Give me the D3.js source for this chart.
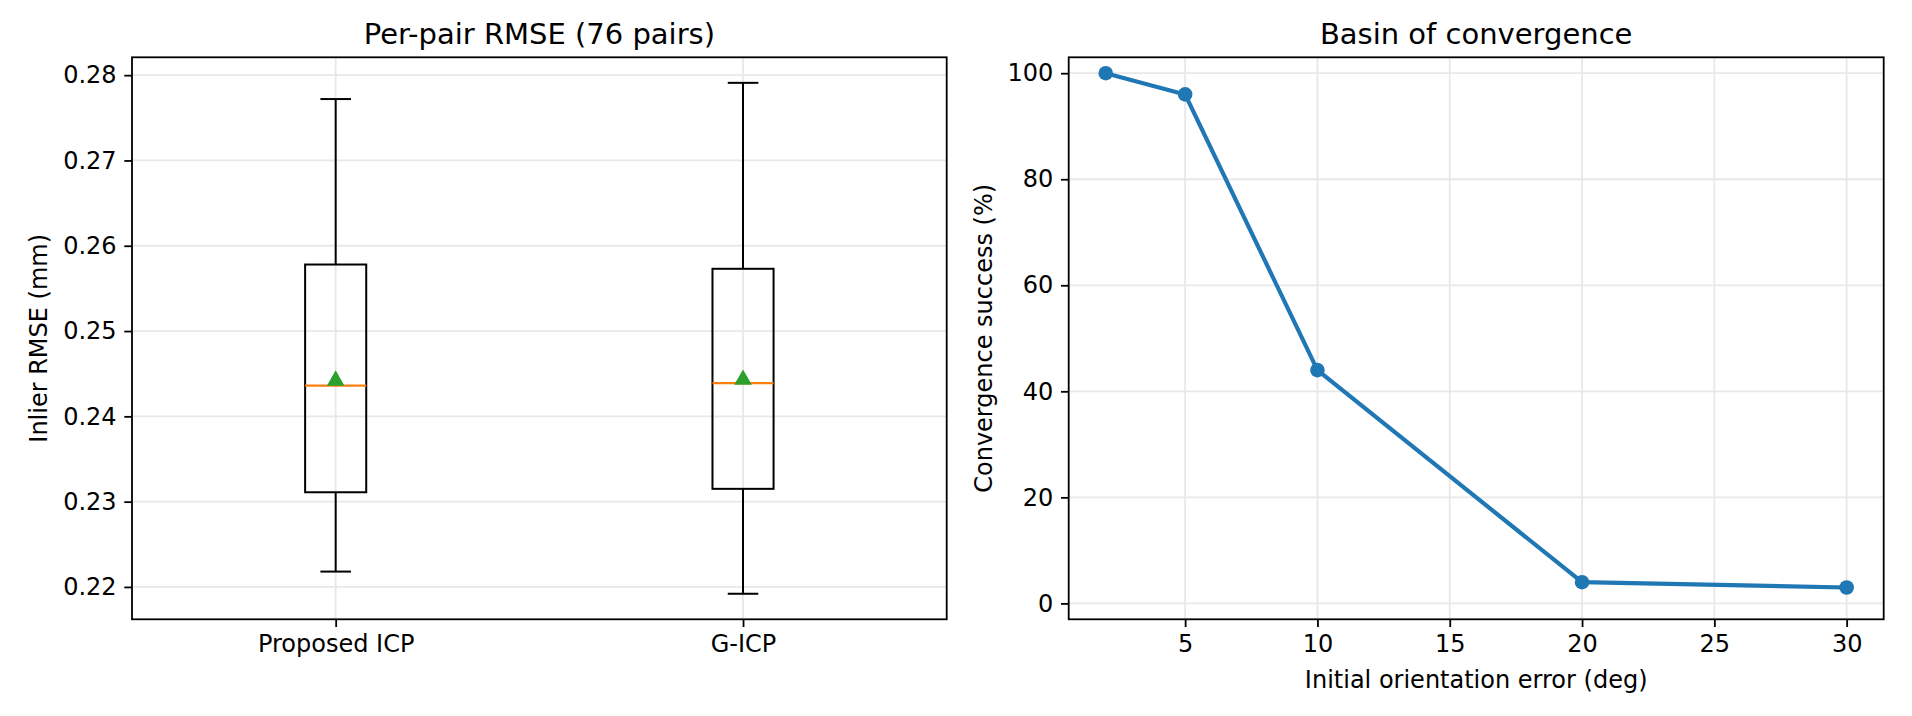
<!DOCTYPE html>
<html lang="en">
<head>
  <meta charset="UTF-8" />
  <script src="https://d3js.org/d3.v7.min.js"></script>
  <title>ICP RMSE and basin of convergence</title>
  <style>
    body { margin: 0; background: #fff; }
    text { font-family: "DejaVu Sans", sans-serif; fill: #000; }
  </style>
</head>
<body>
  <svg width="1912" height="716"></svg>

  <script>
    // box plot stats, one entry per method
    const methods = ["Proposed ICP", "G-ICP"];
    const whiskerLow = [0.2218, 0.2192];
    const q1 = [0.2311, 0.2315];
    const medians = [0.2436, 0.2439];
    const means = [0.2445, 0.2446];
    const q3 = [0.2578, 0.2573];
    const whiskerHigh = [0.2772, 0.2791];
    const rmseTicks = [0.22, 0.23, 0.24, 0.25, 0.26, 0.27, 0.28];

    // basin of convergence
    const angleErr = [2, 5, 10, 20, 30];
    const success = [100, 96, 44, 4, 3];
    const angleTicks = [5, 10, 15, 20, 25, 30];
    const successTicks = [0, 20, 40, 60, 80, 100];

    const fontSize = 24;
    const titleSize = 29;
    const tickLen = 7.7;
    const gridColor = "#e8e8e8";
    const plotTop = 57.3, plotBottom = 619.3;

    const svg = d3.select("svg");

    function frame(g, x0, x1) {
      g.append("rect")
        .attr("x", x0).attr("y", plotTop)
        .attr("width", x1 - x0).attr("height", plotBottom - plotTop)
        .attr("fill", "none")
        .attr("stroke", "#000")
        .attr("stroke-width", 1.8);
    }

    function styleAxis(g) {
      g.select(".domain").remove();
      g.selectAll(".tick line").attr("stroke", "#000").attr("stroke-width", 1.8);
      g.selectAll(".tick text").style("font-size", fontSize + "px").attr("fill", "#000");
    }

    function grid(g, x, y, xt, yt) {
      g.append("g").selectAll("line").data(xt).enter().append("line")
        .attr("x1", d => x(d)).attr("x2", d => x(d))
        .attr("y1", plotTop).attr("y2", plotBottom)
        .attr("stroke", gridColor).attr("stroke-width", 1.8);
      g.append("g").selectAll("line").data(yt).enter().append("line")
        .attr("x1", x.range()[0]).attr("x2", x.range()[1])
        .attr("y1", d => y(d)).attr("y2", d => y(d))
        .attr("stroke", gridColor).attr("stroke-width", 1.8);
    }

    // ---------- left: box plot ----------
    const L = { x0: 132, x1: 946.7 };
    const lo = d3.min(whiskerLow), hi = d3.max(whiskerHigh);
    const pad = (hi - lo) * 0.05;

    const xBox = d3.scaleLinear().domain([0.5, 2.5]).range([L.x0, L.x1]);
    const yBox = d3.scaleLinear().domain([lo - pad, hi + pad]).range([plotBottom, plotTop]);

    const left = svg.append("g");
    grid(left, xBox, yBox, [1, 2], rmseTicks);

    const boxW = xBox(1.15) - xBox(1);
    const capW = boxW / 2;

    const boxes = left.selectAll(".box")
      .data(methods)
      .enter()
      .append("g")
      .attr("class", "box");

    // whiskers
    boxes.append("line")
      .attr("x1", (d, i) => xBox(i + 1)).attr("x2", (d, i) => xBox(i + 1))
      .attr("y1", (d, i) => yBox(whiskerHigh[i])).attr("y2", (d, i) => yBox(q3[i]))
      .attr("stroke", "#000").attr("stroke-width", 2);
    boxes.append("line")
      .attr("x1", (d, i) => xBox(i + 1)).attr("x2", (d, i) => xBox(i + 1))
      .attr("y1", (d, i) => yBox(q1[i])).attr("y2", (d, i) => yBox(whiskerLow[i]))
      .attr("stroke", "#000").attr("stroke-width", 2);
    // caps
    [whiskerHigh, whiskerLow].forEach(arr => {
      boxes.append("line")
        .attr("x1", (d, i) => xBox(i + 1) - capW / 2).attr("x2", (d, i) => xBox(i + 1) + capW / 2)
        .attr("y1", (d, i) => yBox(arr[i])).attr("y2", (d, i) => yBox(arr[i]))
        .attr("stroke", "#000").attr("stroke-width", 2);
    });
    // box
    boxes.append("rect")
      .attr("x", (d, i) => xBox(i + 1) - boxW / 2)
      .attr("y", (d, i) => yBox(q3[i]))
      .attr("width", boxW)
      .attr("height", (d, i) => yBox(q1[i]) - yBox(q3[i]))
      .attr("fill", "none")
      .attr("stroke", "#000").attr("stroke-width", 2);
    // median
    boxes.append("line")
      .attr("x1", (d, i) => xBox(i + 1) - boxW / 2).attr("x2", (d, i) => xBox(i + 1) + boxW / 2)
      .attr("y1", (d, i) => yBox(medians[i])).attr("y2", (d, i) => yBox(medians[i]))
      .attr("stroke", "#ff7f0e").attr("stroke-width", 2.2);
    // mean marker (triangle, bbox centred like matplotlib '^')
    const triW = 17.6, triH = 15.4;
    boxes.append("path")
      .attr("transform", (d, i) => `translate(${xBox(i + 1)}, ${yBox(means[i])})`)
      .attr("d", `M0,${-triH / 2}L${triW / 2},${triH / 2}L${-triW / 2},${triH / 2}Z`)
      .attr("fill", "#2ca02c");

    left.append("g")
      .attr("transform", `translate(0, ${plotBottom})`)
      .call(d3.axisBottom(xBox).tickValues([1, 2]).tickFormat(d => methods[d - 1])
        .tickSize(tickLen).tickPadding(7.7))
      .call(styleAxis);

    left.append("g")
      .attr("transform", `translate(${L.x0}, 0)`)
      .call(d3.axisLeft(yBox).tickValues(rmseTicks).tickFormat(d3.format(".2f"))
        .tickSize(tickLen).tickPadding(7.7))
      .call(styleAxis);

    frame(left, L.x0, L.x1);

    left.append("text")
      .attr("x", (L.x0 + L.x1) / 2).attr("y", 44)
      .attr("text-anchor", "middle")
      .style("font-size", titleSize + "px")
      .text("Per-pair RMSE (76 pairs)");

    left.append("text")
      .attr("transform", `translate(47, ${(plotTop + plotBottom) / 2}) rotate(-90)`)
      .attr("text-anchor", "middle")
      .style("font-size", fontSize + "px")
      .text("Inlier RMSE (mm)");

    // ---------- right: line chart ----------
    const R = { x0: 1068.7, x1: 1883.7 };
    const xr = d3.extent(angleErr);
    const xPad = (xr[1] - xr[0]) * 0.05;

    const xLine = d3.scaleLinear().domain([xr[0] - xPad, xr[1] + xPad]).range([R.x0, R.x1]);
    const yLine = d3.scaleLinear().domain([-3, 103]).range([plotBottom, plotTop]);

    const right = svg.append("g");
    grid(right, xLine, yLine, angleTicks, successTicks);

    const line = d3.line()
      .x((d, i) => xLine(angleErr[i]))
      .y(d => yLine(d));

    right.append("path")
      .datum(success)
      .attr("d", line)
      .attr("fill", "none")
      .attr("stroke", "#1f77b4")
      .attr("stroke-width", 4.2)
      .attr("stroke-linejoin", "round");

    right.selectAll(".pt")
      .data(success)
      .enter()
      .append("circle")
      .attr("class", "pt")
      .attr("cx", (d, i) => xLine(angleErr[i]))
      .attr("cy", d => yLine(d))
      .attr("r", 7.3)
      .attr("fill", "#1f77b4");

    right.append("g")
      .attr("transform", `translate(0, ${plotBottom})`)
      .call(d3.axisBottom(xLine).tickValues(angleTicks).tickFormat(d3.format("d"))
        .tickSize(tickLen).tickPadding(7.7))
      .call(styleAxis);

    right.append("g")
      .attr("transform", `translate(${R.x0}, 0)`)
      .call(d3.axisLeft(yLine).tickValues(successTicks).tickFormat(d3.format("d"))
        .tickSize(tickLen).tickPadding(7.7))
      .call(styleAxis);

    frame(right, R.x0, R.x1);

    right.append("text")
      .attr("x", (R.x0 + R.x1) / 2).attr("y", 44)
      .attr("text-anchor", "middle")
      .style("font-size", titleSize + "px")
      .text("Basin of convergence");

    right.append("text")
      .attr("x", (R.x0 + R.x1) / 2).attr("y", 688)
      .attr("text-anchor", "middle")
      .style("font-size", fontSize + "px")
      .text("Initial orientation error (deg)");

    right.append("text")
      .attr("transform", `translate(992, ${(plotTop + plotBottom) / 2}) rotate(-90)`)
      .attr("text-anchor", "middle")
      .style("font-size", fontSize + "px")
      .text("Convergence success (%)");
  </script>
</body>
</html>
